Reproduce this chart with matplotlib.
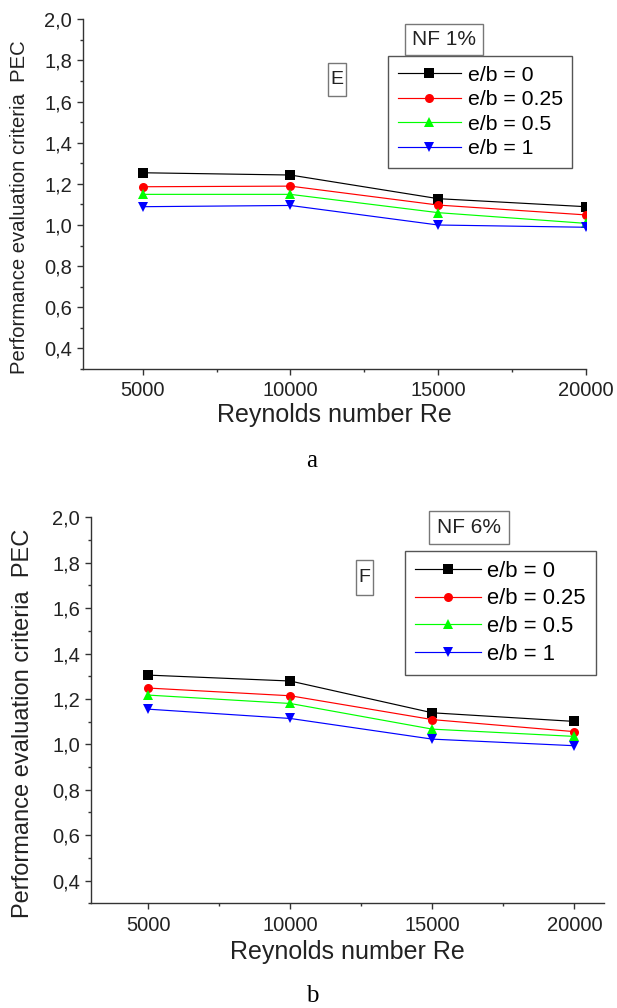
import matplotlib
matplotlib.use("Agg")
from matplotlib import pyplot as plt
from matplotlib.ticker import MultipleLocator, FuncFormatter
from matplotlib.patches import Rectangle

plt.rcParams['font.family'] = ['Liberation Sans', 'DejaVu Sans']

# data
reynolds = [5000, 10000, 15000, 20000]
labels = ["e/b = 0", "e/b = 0.25", "e/b = 0.5", "e/b = 1"]

# panel a (NF 1%)
pec_a_0 = [1.254, 1.243, 1.128, 1.089]
pec_a_025 = [1.186, 1.189, 1.097, 1.049]
pec_a_05 = [1.149, 1.149, 1.060, 1.008]
pec_a_1 = [1.089, 1.095, 1.000, 0.989]

# panel b (NF 6%)
pec_b_0 = [1.305, 1.279, 1.139, 1.101]
pec_b_025 = [1.248, 1.214, 1.109, 1.056]
pec_b_05 = [1.217, 1.180, 1.067, 1.035]
pec_b_1 = [1.155, 1.114, 1.023, 0.994]

colors = ["black", "red", "#00ff00", "blue"]
markers = ["s", "o", "^", "v"]

W, H = 617, 1008
fig = plt.figure(figsize=(W / 100, H / 100), dpi=100)


def px_axes(left, top, right, bottom):
    return fig.add_axes([left / W, 1 - bottom / H, (right - left) / W, (bottom - top) / H])


def comma(v, pos):
    return "{:.1f}".format(v).replace(".", ",")


def boxed(text, x0, y0, x1, y1, size):
    # framed text label, given in pixels from top-left
    fig.patches.append(Rectangle((x0 / W, 1 - y1 / H), (x1 - x0) / W, (y1 - y0) / H,
                                 transform=fig.transFigure, fc='white', ec='#777777', lw=1.0))
    fig.text((x0 + x1) / 2 / W, 1 - (y0 + y1) / 2 / H, text, fontsize=size,
             color='#222222', ha='center', va='center')


def panel(ax, box, series, xmax, ylab_size, ylab_xy, xlab_y, leg_xy, leg_size, leg_space):
    left, top, right, bottom = box
    for vals, c, m, lab in zip(series, colors, markers, labels):
        ax.plot(reynolds, vals, color=c, marker=m, markersize=6.5, lw=0.85,
                label=lab, markeredgewidth=0)
    ax.set_xlim(2970, xmax)
    ax.set_ylim(0.3, 2.0)
    ax.spines['top'].set_visible(False)
    ax.spines['right'].set_visible(False)
    for s in ('left', 'bottom'):
        ax.spines[s].set_color('#333333')
        ax.spines[s].set_linewidth(1.0)
    ax.set_xticks(reynolds)
    ax.xaxis.set_minor_locator(MultipleLocator(2500))
    ax.set_yticks([0.4, 0.6, 0.8, 1.0, 1.2, 1.4, 1.6, 1.8, 2.0])
    ax.yaxis.set_minor_locator(MultipleLocator(0.1))
    ax.yaxis.set_major_formatter(FuncFormatter(comma))
    ax.tick_params(which='major', length=4, width=1, color='#333333',
                   labelsize=14.5, labelcolor='#222222')
    ax.tick_params(axis='y', pad=3.5)
    ax.tick_params(axis='x', pad=5)
    ax.tick_params(which='minor', length=2.5, width=1, color='#333333')
    ax.set_xlabel("Reynolds number Re", fontsize=18, color='#222222', va='center')
    ax.set_ylabel("Performance evaluation criteria  PEC", fontsize=ylab_size,
                  color='#222222', va='center', ha='center')
    ax.xaxis.set_label_coords(0.5, (bottom - xlab_y) / (bottom - top))
    ax.yaxis.set_label_coords((ylab_xy[0] - left) / (right - left),
                              (bottom - ylab_xy[1]) / (bottom - top))
    leg = ax.legend(loc='upper left', bbox_to_anchor=(leg_xy[0] / W, 1 - leg_xy[1] / H),
                    bbox_transform=fig.transFigure, borderaxespad=0, fancybox=False,
                    fontsize=leg_size, handlelength=3.0, handletextpad=0.3,
                    labelspacing=leg_space, borderpad=0.45, framealpha=1)
    leg.get_frame().set_edgecolor('#555555')
    leg.get_frame().set_linewidth(1.0)


box_a = (82.6, 19.3, 586, 369)
ax_a = px_axes(*box_a)
panel(ax_a, box_a, [pec_a_0, pec_a_025, pec_a_05, pec_a_1], 20000,
      14.6, (19, 207), 415, (388, 56), 15.3, 0.26)
boxed("NF 1%", 405, 24.5, 483, 54.5, 15)
boxed("E", 328, 62.5, 346, 96, 14)

box_b = (90.5, 517.3, 604, 903.3)
ax_b = px_axes(*box_b)
panel(ax_b, box_b, [pec_b_0, pec_b_025, pec_b_05, pec_b_1], 21040,
      17, (23, 723), 952, (405, 551), 15.8, 0.3)
boxed("NF 6%", 429, 511, 509, 543.5, 15)
boxed("F", 356, 560, 373, 594.5, 14)

fig.text(312 / W, 1 - 461 / H, "a", fontsize=18, family='Liberation Serif',
         ha='center', va='center')
fig.text(312 / W, 1 - 996 / H, "b", fontsize=18, family='Liberation Serif',
         ha='center', va='center')

fig.savefig("out.png", dpi=100)
